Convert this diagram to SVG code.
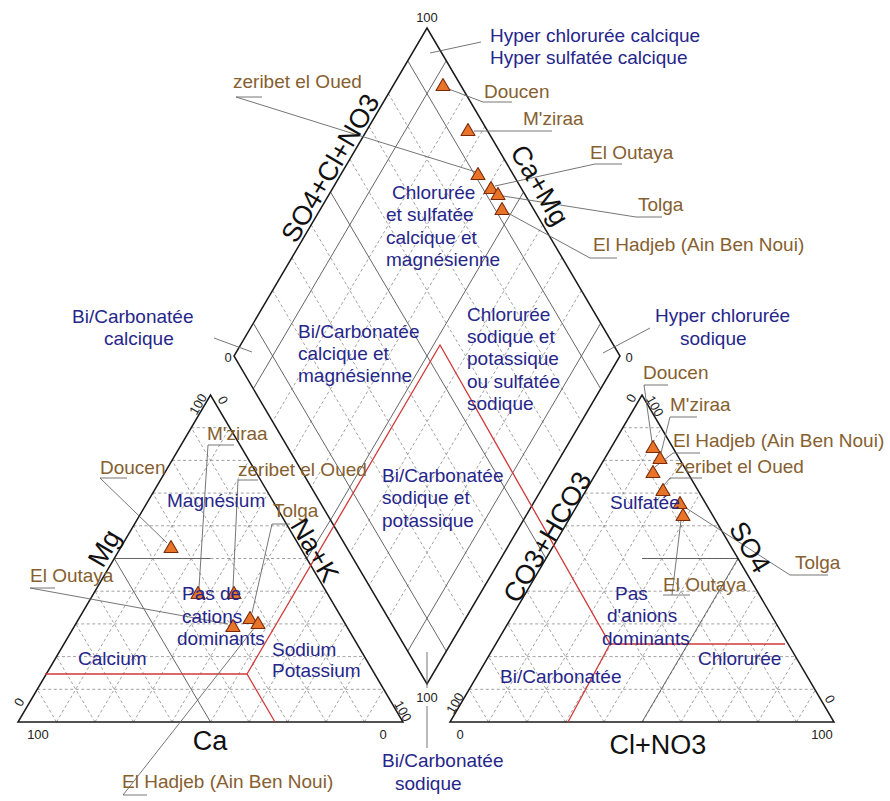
<svg xmlns="http://www.w3.org/2000/svg" xmlns:xlink="http://www.w3.org/1999/xlink" width="890" height="801" viewBox="0 0 890 801">
<style>
text{font-family:"Liberation Sans",Arial,sans-serif}
.edge{fill:none;stroke:#1a1a1a;stroke-width:1.5;stroke-linejoin:miter}
.sol{fill:none;stroke:#555;stroke-width:0.9}
.dash{fill:none;stroke:#8a8a8a;stroke-width:0.8;stroke-dasharray:3 2.5}
.red{fill:none;stroke:#d23a3a;stroke-width:1.3}
.lead{fill:none;stroke:#666;stroke-width:0.9}
.pt{fill:#e8742a;stroke:#7a2a08;stroke-width:1.1;stroke-linejoin:round}
.zone{fill:#26268a;font-size:19px}
.smp{fill:#86602f;font-size:19px}
.axis{fill:#111;font-size:27px}
.tick{fill:#222;font-size:13px}
</style>
<defs>
<path id="mk" class="pt" d="M0,-6.5 L7,5.5 L-7,5.5 Z"/>
<g id="tgrid">
<path class="dash" d="M37.25,689.3H383.75M56.5,656.6H364.5M75.75,623.9H345.25M95,591.2H326M133.5,525.8H287.5M152.75,493.1H268.25M172,460.4H249M191.25,427.7H229.75M210.5,558.5H306.75"/>
<path class="dash" d="M56.5,722L229.75,427.7M95,722L249,460.4M133.5,722L268.25,493.1M172,722L287.5,525.8M210.5,722L306.75,558.5M249,722L326,591.2M287.5,722L345.25,623.9M326,722L364.5,656.6M364.5,722L383.75,689.3"/>
<path class="dash" d="M364.5,722L191.25,427.7M326,722L172,460.4M287.5,722L152.75,493.1M249,722L133.5,525.8M172,722L95,591.2M133.5,722L75.75,623.9M95,722L56.5,656.6M56.5,722L37.25,689.3"/>
</g>
</defs>

<g id="diamond">
<path class="dash" d="M465.6,93.6L272.6,421.6M484.9,126.4L291.9,454.4M504.2,159.2L311.2,487.2M542.8,224.8L349.8,552.8M562.1,257.6L369.1,585.6M581.4,290.4L388.4,618.4"/>
<path class="dash" d="M388.4,93.6L581.4,421.6M369.1,126.4L562.1,454.4M349.8,159.2L542.8,487.2M311.2,224.8L504.2,552.8M291.9,257.6L484.9,585.6M272.6,290.4L465.6,618.4"/>
<path class="sol" d="M446.3,60.8L253.3,388.8M523.5,192L330.5,520M600.7,323.2L407.7,651.2M407.7,60.8L600.7,388.8M330.5,192L523.5,520M253.3,323.2L446.3,651.2"/>
<path class="sol" d="M330.5,520L306.75,558.5M523.5,520L546,558.5"/>
<path class="edge" d="M427,28L620,356L427,684L234,356Z"/>
</g>

<g id="cation-triangle">
<use href="#tgrid"/>
<path class="sol" d="M114.25,558.5H210.5M114.25,558.5L210.5,722"/>
<path class="edge" d="M18,722H403L210.5,395Z"/>
</g>

<g id="anion-triangle">
<use href="#tgrid" x="432"/>
<path class="sol" d="M738,558.5H642M738,558.5L642,722"/>
<path class="edge" d="M450,722H834L642,395Z"/>
</g>

<g id="red-lines">
<path class="red" d="M45,674H247L275,722M247,674L440,345L610,644H785M610,644L568,722"/>
</g>

<g id="connectors">
<path class="lead" d="M430,53L481,42"/>
<path class="lead" d="M262,97H236L476,172"/>
<path class="lead" d="M446,88L483,102H512"/>
<path class="lead" d="M474,131H552"/>
<path class="lead" d="M495,186L595,164H622"/>
<path class="lead" d="M503,196L636,217H662"/>
<path class="lead" d="M506,212L590,258H617"/>
<path class="lead" d="M214,338L252,352"/>
<path class="lead" d="M603,353L650,328"/>
<path class="lead" d="M427,652V688M427,706V748"/>
<path class="lead" d="M234,445H208L199,588"/>
<path class="lead" d="M258,480H238L233,588"/>
<path class="lead" d="M290,524H272L252,613"/>
<path class="lead" d="M127,478H100L167,543"/>
<path class="lead" d="M55,588H30L228,624"/>
<path class="lead" d="M147,795H123L255,627"/>
<path class="lead" d="M668,385H644L652,442"/>
<path class="lead" d="M697,417H670L661,453"/>
<path class="lead" d="M700,453H673L655,467"/>
<path class="lead" d="M702,478H670L664,485"/>
<path class="lead" d="M686,508L790,575H828"/>
<path class="lead" d="M690,595H663M672,595L681,520"/>
</g>

<g id="points">
<use href="#mk" x="443" y="85"/>
<use href="#mk" x="468" y="130"/>
<use href="#mk" x="478" y="174"/>
<use href="#mk" x="491" y="188"/>
<use href="#mk" x="498" y="194"/>
<use href="#mk" x="502" y="209"/>
<use href="#mk" x="171" y="547"/>
<use href="#mk" x="198" y="593"/>
<use href="#mk" x="234" y="593"/>
<use href="#mk" x="250" y="618"/>
<use href="#mk" x="258" y="623"/>
<use href="#mk" x="233" y="626"/>
<use href="#mk" x="653" y="447"/>
<use href="#mk" x="660" y="458"/>
<use href="#mk" x="653" y="472"/>
<use href="#mk" x="663" y="490"/>
<use href="#mk" x="680" y="503"/>
<use href="#mk" x="683" y="515"/>
</g>

<g id="zone-labels">
<text class="zone" x="490" y="42">Hyper chlorurée calcique</text>
<text class="zone" x="490" y="64">Hyper sulfatée calcique</text>
<text class="zone" x="392" y="199">Chlorurée</text>
<text class="zone" x="386" y="221">et sulfatée</text>
<text class="zone" x="386" y="244">calcique et</text>
<text class="zone" x="386" y="266">magnésienne</text>
<text class="zone" x="298" y="338">Bi/Carbonatée</text>
<text class="zone" x="298" y="360">calcique et</text>
<text class="zone" x="298" y="382">magnésienne</text>
<text class="zone" x="467" y="321">Chlorurée</text>
<text class="zone" x="467" y="343">sodique et</text>
<text class="zone" x="467" y="365">potassique</text>
<text class="zone" x="467" y="388">ou sulfatée</text>
<text class="zone" x="467" y="410">sodique</text>
<text class="zone" x="382" y="482">Bi/Carbonatée</text>
<text class="zone" x="382" y="504">sodique et</text>
<text class="zone" x="382" y="527">potassique</text>
<text class="zone" x="72" y="323">Bi/Carbonatée</text>
<text class="zone" x="104" y="345">calcique</text>
<text class="zone" x="655" y="322">Hyper chlorurée</text>
<text class="zone" x="680" y="345">sodique</text>
<text class="zone" x="382" y="767">Bi/Carbonatée</text>
<text class="zone" x="395" y="790">sodique</text>
<text class="zone" x="167" y="507">Magnésium</text>
<text class="zone" x="182" y="600">Pas de</text>
<text class="zone" x="182" y="623">cations</text>
<text class="zone" x="177" y="645">dominants</text>
<text class="zone" x="78" y="665">Calcium</text>
<text class="zone" x="272" y="656">Sodium</text>
<text class="zone" x="272" y="677">Potassium</text>
<text class="zone" x="610" y="509">Sulfatée</text>
<text class="zone" x="615" y="600">Pas</text>
<text class="zone" x="607" y="622">d'anions</text>
<text class="zone" x="602" y="645">dominants</text>
<text class="zone" x="698" y="665">Chlorurée</text>
<text class="zone" x="500" y="683">Bi/Carbonatée</text>
</g>

<g id="sample-labels">
<text class="smp" x="233" y="88">zeribet el Oued</text>
<text class="smp" x="484" y="98">Doucen</text>
<text class="smp" x="523" y="125">M'ziraa</text>
<text class="smp" x="590" y="159">El Outaya</text>
<text class="smp" x="638" y="211">Tolga</text>
<text class="smp" x="593" y="251">El Hadjeb (Ain Ben Noui)</text>
<text class="smp" x="207" y="440">M'ziraa</text>
<text class="smp" x="100" y="474">Doucen</text>
<text class="smp" x="238" y="476">zeribet el Oued</text>
<text class="smp" x="273" y="517">Tolga</text>
<text class="smp" x="30" y="582">El Outaya</text>
<text class="smp" x="122" y="788">El Hadjeb (Ain Ben Noui)</text>
<text class="smp" x="643" y="379">Doucen</text>
<text class="smp" x="670" y="411">M'ziraa</text>
<text class="smp" x="673" y="447">El Hadjeb (Ain Ben Noui)</text>
<text class="smp" x="675" y="473">zeribet el Oued</text>
<text class="smp" x="795" y="569">Tolga</text>
<text class="smp" x="663" y="591">El Outaya</text>
</g>

<g id="axis-labels" text-anchor="middle">
<text class="axis" transform="translate(330,168) rotate(-59.5)" dy=".35em">SO4+Cl+NO3</text>
<text class="axis" transform="translate(540,185) rotate(59.5)" dy=".35em">Ca+Mg</text>
<text class="axis" transform="translate(104,548) rotate(-59.5)" dy=".35em">Mg</text>
<text class="axis" transform="translate(315,550) rotate(59.5)" dy=".35em">Na+K</text>
<text class="axis" x="210" y="750">Ca</text>
<text class="axis" transform="translate(547,537) rotate(-59.5)" dy=".35em">CO3+HCO3</text>
<text class="axis" transform="translate(750,547) rotate(59.5)" dy=".35em">SO4</text>
<text class="axis" x="658" y="754">Cl+NO3</text>
</g>

<g id="ticks" text-anchor="middle">
<text class="tick" x="427" y="22">100</text>
<text class="tick" x="228" y="362">0</text>
<text class="tick" x="629" y="362">0</text>
<text class="tick" x="427" y="702">100</text>
<text class="tick" transform="translate(198,404) rotate(-60)" dy=".35em">100</text>
<text class="tick" transform="translate(223,400) rotate(60)" dy=".35em">0</text>
<text class="tick" transform="translate(19,702) rotate(-60)" dy=".35em">0</text>
<text class="tick" transform="translate(403,711) rotate(60)" dy=".35em">100</text>
<text class="tick" x="38" y="739">100</text>
<text class="tick" x="383" y="739">0</text>
<text class="tick" transform="translate(631,398) rotate(-60)" dy=".35em">0</text>
<text class="tick" transform="translate(655,406) rotate(60)" dy=".35em">100</text>
<text class="tick" transform="translate(455,703) rotate(-60)" dy=".35em">100</text>
<text class="tick" transform="translate(830,699) rotate(60)" dy=".35em">0</text>
<text class="tick" x="460" y="739">0</text>
<text class="tick" x="822" y="739">100</text>
</g>
</svg>
